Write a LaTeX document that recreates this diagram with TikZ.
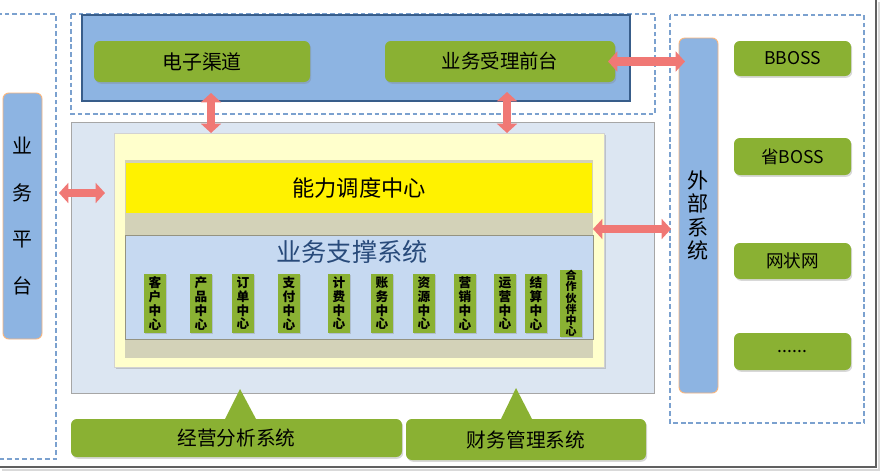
\documentclass[tikz,border=0pt]{standalone}
\usepackage{fontspec}
\setmainfont{Noto Sans CJK SC}
\usetikzlibrary{positioning, arrows.meta, calc, shadows}
\definecolor{BoxGreen}{HTML}{8AB133}
\definecolor{SkyBlue}{HTML}{8DB4E2}
\definecolor{NavyEdge}{HTML}{385D8A}
\definecolor{DashBlue}{HTML}{7BA1CF}
\definecolor{PaleBlue}{HTML}{DCE6F2}
\definecolor{PaleYellow}{HTML}{FFFFCC}
\definecolor{TanGray}{HTML}{D3D2B8}
\definecolor{SupBlue}{HTML}{C6D9F1}
\definecolor{ArrowRed}{HTML}{F07875}
\definecolor{TitleBlue}{HTML}{284A7A}
\definecolor{OrangeEdge}{HTML}{F9B57C}

\begin{document}
\begin{tikzpicture}[x=0.03cm, y=-0.03cm,
  span/.style n args={4}{inner sep=0pt, outer sep=0pt,
    minimum width={(#3-#1)*0.03cm}, minimum height={(#4-#2)*0.03cm},
    at={({(#1+#3)/2},{(#2+#4)/2})}},
  greenbox/.style={fill=BoxGreen, rounded corners=5pt,
    drop shadow={shadow xshift=1pt, shadow yshift=-1.5pt, opacity=.3}},
  sidebox/.style={fill=SkyBlue, draw=OrangeEdge, line width=0.8pt,
    rounded corners=5pt, align=center},
  dashbox/.style={draw=DashBlue, line width=1.1pt, dash pattern=on 4pt off 2.5pt},
  dblarrow/.style={ArrowRed, line width=7.5pt,
    {Triangle[length=8pt,width=17pt]}-{Triangle[length=8pt,width=17pt]}},
  pill/.style={fill=BoxGreen, minimum width=19pt, minimum height=50pt, inner sep=0pt,
    align=center, font=\bfseries\fontsize{10.8}{11.7}\selectfont,
    drop shadow={shadow xshift=1pt, shadow yshift=-1pt, opacity=.3}}]

  %% Canvas and screenshot frame
  \fill[white] (0,0) rectangle (881,472);
  \useasboundingbox (0,0) rectangle (881,472);
  \draw[gray!30, line width=2pt] (879,2) -- (879,470) -- (2,470);
  \draw[gray!75!black, line width=1.3pt] (876,0) -- (876,467) -- (0,467);

  %% Dashed groups
  \draw[dashbox] (-5,14) rectangle (56,459);
  \draw[dashbox] (71,14) rectangle (655,114);
  \draw[dashbox] (670,15) rectangle (864,423);

  %% Channel layer
  \node[span={82}{15}{630}{101}, fill=SkyBlue, draw=NavyEdge, line width=1.6pt] (top) {};
  \node[span={94}{41}{310}{82}, greenbox, font=\fontsize{17}{20}\selectfont] (chan) {电子渠道};
  \node[span={385}{41}{615}{82}, greenbox, font=\fontsize{16.6}{20}\selectfont] (front) {业务受理前台};

  %% Core area
  \node[span={71}{122}{654}{393}, fill=PaleBlue, draw=gray!70, line width=0.8pt] (core) {};
  \node[span={114}{133}{604}{367}, fill=PaleYellow, draw=gray!35, line width=0.6pt,
    drop shadow={shadow xshift=1.5pt, shadow yshift=-2pt, opacity=.35}] (lyel) {};
  \node[span={125}{160}{593}{358}, fill=TanGray] (tan) {};
  \node[span={126}{163}{592}{213}, fill=yellow, font=\fontsize{19}{22}\selectfont] (sched)
    {\raisebox{-5pt}{能力调度中心}};
  \node[span={125}{235}{593}{339}, fill=SupBlue, draw=TanGray!70!black, line width=0.6pt] (sup) {};
  \node[text=TitleBlue, font=\fontsize{21.5}{24}\selectfont] (title) at (352,252) {业务支撑系统};

  %% Centres
  \foreach \cx/\nm/\lbl in {155/kh/{客\\户\\中\\心}, 201/cp/{产\\品\\中\\心},
    243/dd/{订\\单\\中\\心}, 289/zf/{支\\付\\中\\心}, 339/jf/{计\\费\\中\\心},
    382/zw/{账\\务\\中\\心}, 424/zy/{资\\源\\中\\心}, 465/yx/{营\\销\\中\\心},
    505/yy/{运\\营\\中\\心}, 536/js/{结\\算\\中\\心}}{
    \node[pill] (c\nm) at (\cx,303.5) {\lbl};
  }
  \node[pill, font=\bfseries\fontsize{9.4}{9.6}\selectfont] (chb) at (571,303.5)
    {合\\作\\伙\\伴\\中\\心};

  %% Side systems
  \node[span={3}{93}{42}{339}, sidebox, font=\fontsize{17}{40}\selectfont] (plat) {业\\务\\平\\台};
  \node[span={679}{38}{718}{393}, sidebox, font=\fontsize{18}{20}\selectfont] (ext) {外\\部\\系\\统};

  \foreach \yt/\yb/\nm/\lbl in {41/76/bboss/BBOSS, 138/175/sboss/省BOSS,
    243/279/net/网状网}{
    \node[span={734}{\yt}{851}{\yb}, greenbox, font=\fontsize{15}{18}\selectfont] (\nm) {\lbl};
  }
  \node[span={734}{333}{851}{370}, greenbox, font=\fontsize{15}{18}\selectfont] (more) {......};

  %% Analysis and finance
  \node[span={71}{419}{402}{457}, greenbox, font=\fontsize{16.8}{20}\selectfont] (ana) {经营分析系统};
  \node[span={406}{419}{646}{460}, greenbox, font=\fontsize{16.8}{20}\selectfont] (fin) {财务管理系统};
  \fill[BoxGreen] (240,389) -- (256,419) -- (225,419) -- cycle;
  \fill[BoxGreen] (516,388) -- (532,419) -- (501,419) -- cycle;

  %% Links
  \coordinate (chanArr) at (211,93);
  \coordinate (frontArr) at (507,92);
  \coordinate (platArr) at (59,193);
  \coordinate (supArr) at (593,229);
  \draw[dblarrow] (chanArr) -- (chanArr |- lyel.north);
  \draw[dblarrow] (frontArr) -- (frontArr |- lyel.north);
  \draw[dblarrow] (platArr) -- ($(platArr -| lyel.west)+(-9,0)$);
  \draw[dblarrow] ($(front.east)+(-7,0)$) -- ($(front.east -| ext.west)+(6,0)$);
  \draw[dblarrow] (supArr) -- ($(supArr -| ext.west)+(-8,0)$);

\end{tikzpicture}
\end{document}
